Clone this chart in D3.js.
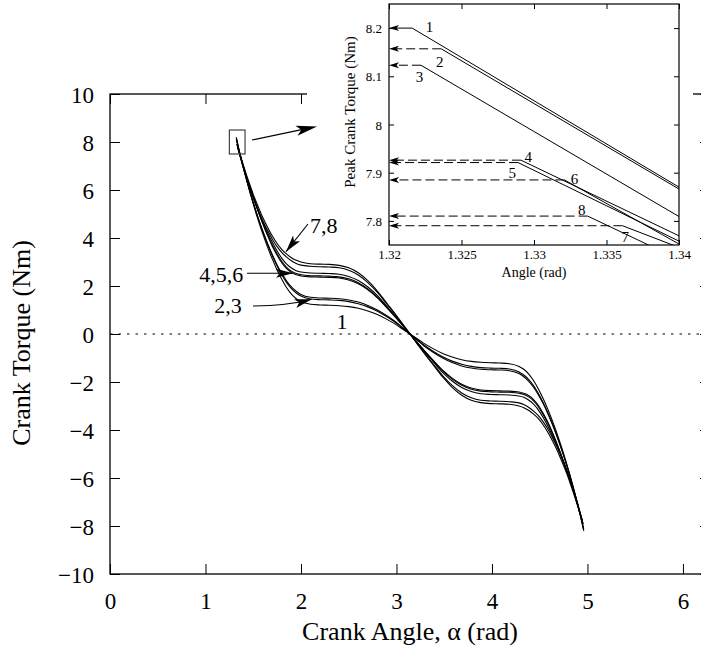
<!DOCTYPE html>
<html><head><meta charset="utf-8">
<script src="https://cdn.jsdelivr.net/npm/d3@7"></script>
<style>
body{margin:0;background:#fff}
svg{display:block}
text{font-family:"Liberation Serif","Times New Roman",serif;fill:#000}
</style>
</head><body>
<svg id="c" width="701" height="652"></svg>
<script>
// ---------------- data ----------------
const X_TICKS = [0, 1, 2, 3, 4, 5, 6];
const Y_TICKS = [-10, -8, -6, -4, -2, 0, 2, 4, 6, 8, 10];
const INSET_X_TICKS = [1.32, 1.325, 1.33, 1.335, 1.34];
const INSET_Y_TICKS = [7.8, 7.9, 8.0, 8.1, 8.2];
const CURVE_NAMES = ["1", "2", "3", "4", "5", "6", "7", "8"];

// shared angle grid (rad)
const ANGLES = [1.34, 1.36, 1.38, 1.40, 1.43, 1.46, 1.50, 1.55, 1.60, 1.65, 1.70, 1.75, 1.80, 1.85, 1.90, 1.95,
  2.00, 2.10, 2.20, 2.30, 2.40, 2.50, 2.60, 2.70, 2.80, 2.90, 3.00, 3.07, 3.1416,
  3.2132, 3.2832, 3.3832, 3.4832, 3.5832, 3.6832, 3.7832, 3.8832, 3.9832, 4.0832, 4.1832, 4.2832,
  4.3332, 4.3832, 4.4332, 4.4832, 4.5332, 4.5832, 4.6332, 4.6832, 4.7332, 4.7832, 4.8232, 4.8532,
  4.8832, 4.9032, 4.9232, 4.9432];

// peak (start) and end points of each curve
const PEAK_ANGLE = [1.3216, 1.3236, 1.3222, 1.3291, 1.3289, 1.3321, 1.3361, 1.3337];
const PEAK_TORQUE = [8.200, 8.157, 8.123, 7.926, 7.921, 7.885, 7.790, 7.810];
const END_ANGLE = [4.9616, 4.9596, 4.9610, 4.9541, 4.9543, 4.9511, 4.9471, 4.9495];
const END_TORQUE = [-8.200, -8.157, -8.123, -7.926, -7.921, -7.885, -7.790, -7.810];

const TORQUE_1 = [7.87, 7.53, 7.20, 6.88, 6.42, 5.98, 5.42, 4.77, 4.17, 3.62, 3.12, 2.67, 2.27, 1.93, 1.66, 1.47, 1.35, 1.24, 1.21, 1.20, 1.18, 1.14, 1.07, 0.96, 0.81, 0.61, 0.38, 0.19, 0,
  -0.19, -0.38, -0.61, -0.81, -0.96, -1.07, -1.14, -1.18, -1.20, -1.21, -1.24, -1.35, -1.47, -1.66, -1.93, -2.27, -2.67, -3.12, -3.62, -4.17, -4.77, -5.42, -5.98, -6.42, -6.88, -7.20, -7.53, -7.87];
const TORQUE_2 = [7.866, 7.53, 7.21, 6.90, 6.45, 6.02, 5.48, 4.85, 4.27, 3.74, 3.26, 2.83, 2.46, 2.14, 1.89, 1.71, 1.58, 1.46, 1.43, 1.42, 1.40, 1.35, 1.26, 1.13, 0.95, 0.72, 0.45, 0.23, 0,
  -0.23, -0.45, -0.72, -0.95, -1.13, -1.26, -1.35, -1.40, -1.42, -1.43, -1.46, -1.58, -1.71, -1.89, -2.14, -2.46, -2.83, -3.26, -3.74, -4.27, -4.85, -5.48, -6.02, -6.45, -6.90, -7.21, -7.53, -7.866];
const TORQUE_3 = [7.809, 7.48, 7.16, 6.86, 6.42, 6.00, 5.47, 4.86, 4.29, 3.77, 3.30, 2.88, 2.52, 2.21, 1.96, 1.78, 1.65, 1.53, 1.50, 1.49, 1.47, 1.42, 1.33, 1.19, 1.00, 0.76, 0.48, 0.24, 0,
  -0.24, -0.48, -0.76, -1.00, -1.19, -1.33, -1.42, -1.47, -1.49, -1.50, -1.53, -1.65, -1.78, -1.96, -2.21, -2.52, -2.88, -3.30, -3.77, -4.29, -4.86, -5.47, -6.00, -6.42, -6.86, -7.16, -7.48, -7.809];
const TORQUE_4 = [7.769, 7.49, 7.21, 6.94, 6.55, 6.17, 5.69, 5.12, 4.59, 4.10, 3.66, 3.28, 2.96, 2.72, 2.56, 2.47, 2.42, 2.38, 2.37, 2.36, 2.33, 2.25, 2.09, 1.84, 1.51, 1.09, 0.65, 0.33, 0,
  -0.33, -0.65, -1.09, -1.51, -1.84, -2.09, -2.25, -2.33, -2.36, -2.37, -2.38, -2.42, -2.47, -2.56, -2.72, -2.96, -3.28, -3.66, -4.10, -4.59, -5.12, -5.69, -6.17, -6.55, -6.94, -7.21, -7.49, -7.769];
const TORQUE_5 = [7.758, 7.48, 7.20, 6.93, 6.54, 6.17, 5.70, 5.14, 4.62, 4.14, 3.71, 3.34, 3.02, 2.78, 2.62, 2.52, 2.47, 2.43, 2.42, 2.41, 2.38, 2.30, 2.14, 1.88, 1.54, 1.11, 0.66, 0.34, 0,
  -0.34, -0.66, -1.11, -1.54, -1.88, -2.14, -2.30, -2.38, -2.41, -2.42, -2.43, -2.47, -2.52, -2.62, -2.78, -3.02, -3.34, -3.71, -4.14, -4.62, -5.14, -5.70, -6.17, -6.54, -6.93, -7.20, -7.48, -7.758];
const TORQUE_6 = [7.752, 7.47, 7.19, 6.93, 6.55, 6.19, 5.73, 5.19, 4.69, 4.23, 3.82, 3.46, 3.15, 2.91, 2.75, 2.64, 2.58, 2.54, 2.53, 2.52, 2.49, 2.40, 2.23, 1.96, 1.60, 1.15, 0.69, 0.35, 0,
  -0.35, -0.69, -1.15, -1.60, -1.96, -2.23, -2.40, -2.49, -2.52, -2.53, -2.54, -2.58, -2.64, -2.75, -2.91, -3.15, -3.46, -3.82, -4.23, -4.69, -5.19, -5.73, -6.19, -6.55, -6.93, -7.19, -7.47, -7.752];
const TORQUE_7 = [7.745, 7.50, 7.24, 6.99, 6.62, 6.27, 5.82, 5.32, 4.85, 4.45, 4.08, 3.77, 3.52, 3.33, 3.18, 3.07, 3.00, 2.93, 2.91, 2.90, 2.86, 2.76, 2.55, 2.22, 1.79, 1.28, 0.77, 0.39, 0,
  -0.39, -0.77, -1.28, -1.79, -2.22, -2.55, -2.76, -2.86, -2.90, -2.91, -2.93, -3.00, -3.07, -3.18, -3.33, -3.52, -3.77, -4.08, -4.45, -4.85, -5.32, -5.82, -6.27, -6.62, -6.99, -7.24, -7.50, -7.745];
const TORQUE_8 = [7.72, 7.43, 7.15, 6.88, 6.50, 6.14, 5.69, 5.17, 4.72, 4.32, 3.95, 3.64, 3.39, 3.20, 3.05, 2.94, 2.87, 2.82, 2.80, 2.79, 2.76, 2.66, 2.46, 2.14, 1.73, 1.24, 0.74, 0.37, 0,
  -0.37, -0.74, -1.24, -1.73, -2.14, -2.46, -2.66, -2.76, -2.79, -2.80, -2.82, -2.87, -2.94, -3.05, -3.20, -3.39, -3.64, -3.95, -4.32, -4.72, -5.17, -5.69, -6.14, -6.50, -6.88, -7.15, -7.43, -7.72];
const TORQUES = [TORQUE_1, TORQUE_2, TORQUE_3, TORQUE_4, TORQUE_5, TORQUE_6, TORQUE_7, TORQUE_8];

// ---------------- layout ----------------
const svg = d3.select("#c");
const x = d3.scaleLinear().domain([0, 6.2832]).range([110, 710]);
const y = d3.scaleLinear().domain([-10, 10]).range([574, 94]);
const ix = d3.scaleLinear().domain([1.32, 1.34]).range([389, 679]);
const iy = d3.scaleLinear().domain([7.75, 8.25]).range([245, 4]);

const fmtMain = d => d < 0 ? "\u2212" + Math.abs(d) : String(d);
const fmtInset = d => String(+d.toFixed(3));

const curves = CURVE_NAMES.map((n, i) => {
  const pts = [[PEAK_ANGLE[i], PEAK_TORQUE[i]]];
  ANGLES.forEach((a, j) => pts.push([a, TORQUES[i][j]]));
  pts.push([END_ANGLE[i], END_TORQUE[i]]);
  return {name: n, pts};
});

function arrowHead(sel, tx, ty, fx, fy, L, W, notch) {
  const dx = tx - fx, dy = ty - fy, len = Math.hypot(dx, dy);
  const ux = dx / len, uy = dy / len, px = -uy, py = ux;
  const bx = tx - ux * L, by = ty - uy * L;
  const nx = tx - ux * (L - notch), ny = ty - uy * (L - notch);
  sel.append("path")
    .attr("d", `M${tx},${ty}L${bx + px * W},${by + py * W}L${nx},${ny}L${bx - px * W},${by - py * W}Z`)
    .attr("fill", "#000").attr("stroke", "none");
}
function styleAxis(g) {
  g.select(".domain").remove();
  g.selectAll(".tick line").attr("stroke", "#000").attr("stroke-width", 1);
}

// ---------------- main axes ----------------
const axesG = svg.append("g");
axesG.append("g").attr("transform", "translate(0,574)")
  .call(d3.axisBottom(x).tickValues(X_TICKS).tickSize(-10).tickPadding(19).tickFormat(fmtMain))
  .call(styleAxis).selectAll("text").attr("font-size", 23).attr("font-family", "Liberation Serif");
axesG.append("g").attr("transform", "translate(110,0)")
  .call(d3.axisLeft(y).tickValues(Y_TICKS).tickSize(-10).tickPadding(16).tickFormat(fmtMain))
  .call(styleAxis).selectAll("text").attr("font-size", 23).attr("font-family", "Liberation Serif").attr("dy", "0.35em");
axesG.append("g").attr("transform", "translate(0,94)")
  .call(d3.axisTop(x).tickValues(X_TICKS).tickSize(-10).tickFormat(""))
  .call(styleAxis);
axesG.append("g").attr("transform", "translate(710,0)")
  .call(d3.axisRight(y).tickValues(Y_TICKS).tickSize(-10).tickFormat(""))
  .call(styleAxis);
axesG.append("rect").attr("x", x(0)).attr("y", y(10)).attr("width", x(6.2832) - x(0)).attr("height", y(-10) - y(10))
  .attr("fill", "none").attr("stroke", "#000").attr("stroke-width", 1.3);
axesG.append("line").attr("x1", x(0)).attr("x2", x(6.2832)).attr("y1", y(0)).attr("y2", y(0))
  .attr("stroke", "#000").attr("stroke-width", 1).attr("stroke-dasharray", "2.5,6");
axesG.append("text").attr("x", 410).attr("y", 640).attr("text-anchor", "middle").attr("font-size", 26)
  .text("Crank Angle, \u03b1 (rad)");
axesG.append("text").attr("transform", "translate(30,343) rotate(-90)").attr("text-anchor", "middle").attr("font-size", 26)
  .text("Crank Torque (Nm)");

// white background of the inset (hides the top frame behind it)
svg.append("rect").attr("x", 307).attr("y", 0).attr("width", 386).attr("height", 282).attr("fill", "#fff");

// ---------------- main curves ----------------
const main = svg.append("g");
const line = d3.line().x(d => x(d[0])).y(d => y(d[1])).curve(d3.curveMonotoneX);
main.append("g").selectAll("path").data(curves).join("path")
  .attr("d", d => line(d.pts)).attr("fill", "none").attr("stroke", "#000").attr("stroke-width", 1.1);

// zoom rectangle and arrow to inset
main.append("rect").attr("x", x(1.25)).attr("y", y(8.5)).attr("width", x(1.414) - x(1.25)).attr("height", y(7.5) - y(8.5))
  .attr("fill", "none").attr("stroke", "#444").attr("stroke-width", 1.2);
{
  const fx = x(1.487), fy = y(8.083), tx = x(2.168), ty = y(8.646);
  main.append("line").attr("x1", fx).attr("y1", fy).attr("x2", tx - (tx - fx) * 0.2).attr("y2", ty - (ty - fy) * 0.2)
    .attr("stroke", "#000").attr("stroke-width", 1.2);
  arrowHead(main, tx, ty, fx, fy, 21, 5, 5);
}

// curve group labels with arrows
const ann = main.append("g");
function labelArrow(fx, fy, tx, ty, cx, cy) {
  const p = d3.path();
  p.moveTo(fx, fy);
  if (cx !== undefined) p.quadraticCurveTo(cx, cy, tx, ty); else p.lineTo(tx, ty);
  ann.append("path").attr("d", p.toString()).attr("fill", "none").attr("stroke", "#000").attr("stroke-width", 1.1);
  const bx = cx !== undefined ? cx : fx, by = cx !== undefined ? cy : fy;
  arrowHead(ann, tx, ty, bx, by, 17, 4.5, 4);
}
ann.append("text").attr("x", x(2.094)).attr("y", y(4.196)).attr("font-size", 22).text("7,8");
labelArrow(x(2.073), y(4.583), x(1.843), y(3.429));
ann.append("text").attr("x", x(1.396)).attr("y", y(2.18)).attr("text-anchor", "end").attr("font-size", 22).text("4,5,6");
labelArrow(x(1.435), y(2.529), x(1.916), y(2.529));
ann.append("text").attr("x", x(1.379)).attr("y", y(0.8625)).attr("text-anchor", "end").attr("font-size", 22).text("2,3");
labelArrow(x(1.497), y(1.167), x(2.112), y(1.446), x(1.85), y(1.17));
ann.append("text").attr("x", x(2.429)).attr("y", y(0.196)).attr("text-anchor", "middle").attr("font-size", 22).text("1");

// ---------------- inset ----------------
const ins = svg.append("g");
ins.append("defs").append("clipPath").attr("id", "ic").append("rect")
  .attr("x", ix(1.32)).attr("y", iy(8.25)).attr("width", ix(1.34) - ix(1.32)).attr("height", iy(7.75) - iy(8.25));
ins.append("g").attr("transform", `translate(0,${iy(7.75)})`)
  .call(d3.axisBottom(ix).tickValues(INSET_X_TICKS).tickSize(-5).tickPadding(5).tickFormat(fmtInset))
  .call(styleAxis).selectAll("text").attr("font-size", 13).attr("font-family", "Liberation Serif");
ins.append("g").attr("transform", `translate(0,${iy(8.25)})`)
  .call(d3.axisTop(ix).tickValues(INSET_X_TICKS).tickSize(-5).tickFormat(""))
  .call(styleAxis);
ins.append("g").attr("transform", `translate(${ix(1.32)},0)`)
  .call(d3.axisLeft(iy).tickValues(INSET_Y_TICKS).tickSize(-5).tickPadding(7).tickFormat(fmtInset))
  .call(styleAxis).selectAll("text").attr("font-size", 13).attr("font-family", "Liberation Serif").attr("dy", "0.35em");
ins.append("g").attr("transform", `translate(${ix(1.34)},0)`)
  .call(d3.axisRight(iy).tickValues(INSET_Y_TICKS).tickSize(-5).tickFormat(""))
  .call(styleAxis);
ins.append("rect").attr("x", ix(1.32)).attr("y", iy(8.25)).attr("width", ix(1.34) - ix(1.32)).attr("height", iy(7.75) - iy(8.25))
  .attr("fill", "none").attr("stroke", "#000").attr("stroke-width", 1.2);
ins.append("text").attr("x", 534).attr("y", 277).attr("text-anchor", "middle").attr("font-size", 14).text("Angle (rad)");
ins.append("text").attr("transform", "translate(355,112) rotate(-90)").attr("text-anchor", "middle").attr("font-size", 15)
  .text("Peak Crank Torque (Nm)");

const iline = d3.line().x(d => ix(d[0])).y(d => iy(d[1]));
ins.append("g").attr("clip-path", "url(#ic)").selectAll("path").data(curves).join("path")
  .attr("d", d => iline(d.pts.slice(0, 4))).attr("fill", "none").attr("stroke", "#000").attr("stroke-width", 1);
curves.forEach((c, i) => {
  const py = iy(PEAK_TORQUE[i]);
  ins.append("line").attr("x1", ix(PEAK_ANGLE[i])).attr("x2", ix(1.32) + 6).attr("y1", py).attr("y2", py)
    .attr("stroke", "#000").attr("stroke-width", 1).attr("stroke-dasharray", i === 0 ? null : "9,4");
  arrowHead(ins, ix(1.32), py, ix(1.32) + 20, py, 10, 3, 2.5);
});
const INSET_LABELS = [[1.3228, 8.203], [1.3235, 8.130], [1.3221, 8.099], [1.3296, 7.933], [1.3285, 7.899], [1.3328, 7.888], [1.3363, 7.767], [1.3333, 7.823]];
curves.forEach((c, i) => {
  ins.append("text").attr("x", ix(INSET_LABELS[i][0])).attr("y", iy(INSET_LABELS[i][1])).attr("dy", "0.35em")
    .attr("text-anchor", "middle").attr("font-size", 15).text(c.name);
});
</script>
</body></html>
